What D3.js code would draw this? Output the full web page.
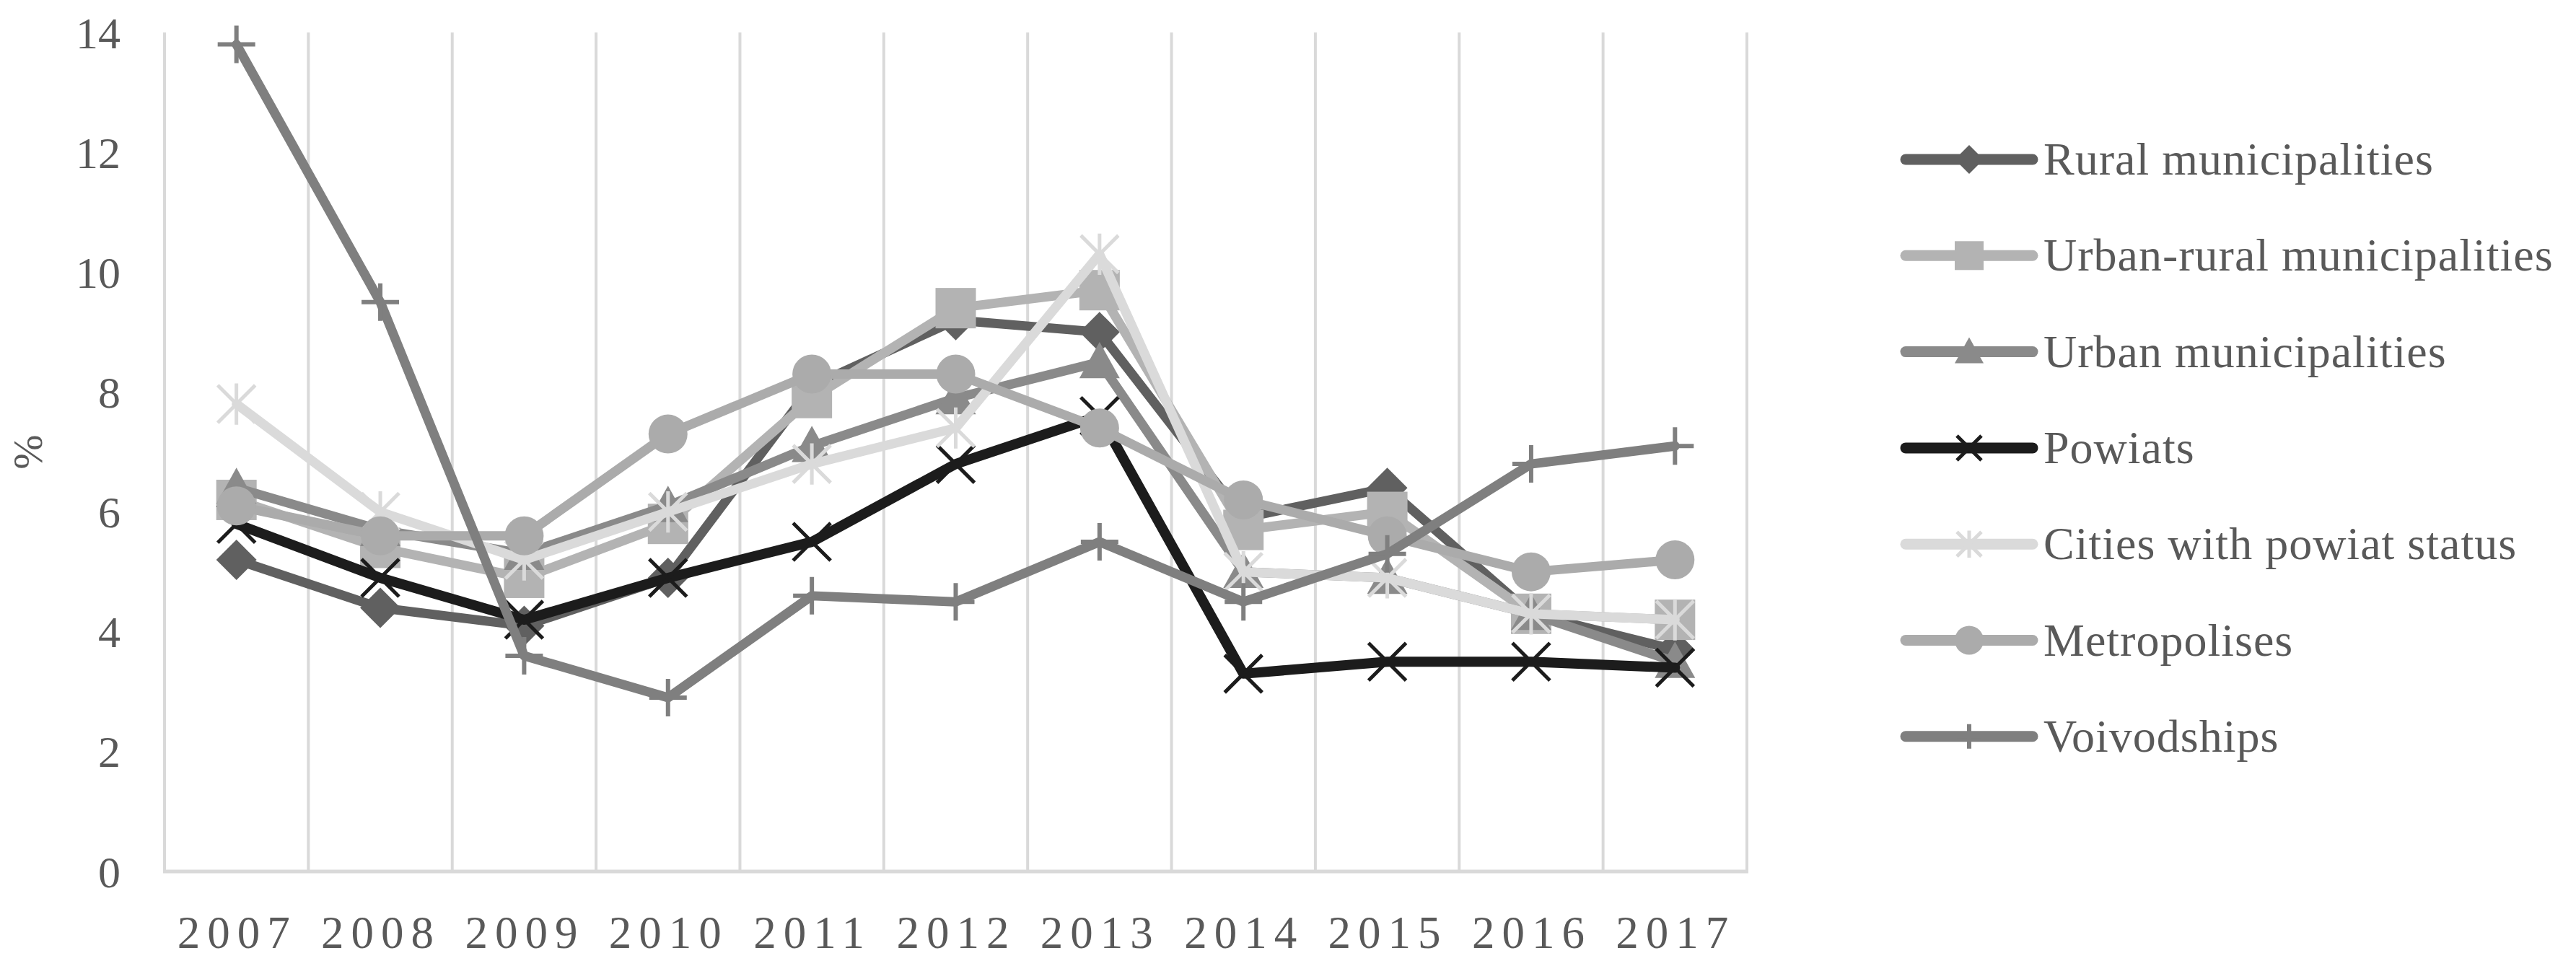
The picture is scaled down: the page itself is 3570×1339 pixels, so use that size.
<!DOCTYPE html>
<html>
<head>
<meta charset="utf-8">
<script src="https://cdn.jsdelivr.net/npm/d3@7"></script>
<style>
  html, body { margin: 0; padding: 0; background: #ffffff; }
  svg { display: block; }
</style>
</head>
<body>
<svg id="chart" width="3570" height="1339"></svg>
<script>
// ---------- DATA ----------
const years = ["2007","2008","2009","2010","2011","2012","2013","2014","2015","2016","2017"];
const yTicks = [0, 2, 4, 6, 8, 10, 12, 14];
const seriesNames = [
  "Rural municipalities",
  "Urban-rural municipalities",
  "Urban municipalities",
  "Powiats",
  "Cities with powiat status",
  "Metropolises",
  "Voivodships"
];
const ruralMunicipalities      = [5.2, 4.4, 4.1, 4.9, 8.1, 9.2, 9.0, 5.9, 6.4, 4.3, 3.7];
const urbanRuralMunicipalities = [6.2, 5.4, 4.9, 5.8, 7.9, 9.4, 9.7, 5.7, 6.0, 4.3, 4.2];
const urbanMunicipalities      = [6.4, 5.7, 5.3, 6.1, 7.1, 7.9, 8.5, 5.0, 4.9, 4.3, 3.5];
const powiats                  = [5.8, 4.9, 4.2, 4.9, 5.5, 6.8, 7.6, 3.3, 3.5, 3.5, 3.4];
const citiesWithPowiatStatus   = [7.8, 6.0, 5.2, 6.0, 6.8, 7.4, 10.3, 5.0, 4.9, 4.3, 4.2];
const metropolises             = [6.1, 5.6, 5.6, 7.3, 8.3, 8.3, 7.4, 6.2, 5.6, 5.0, 5.2];
const voivodships              = [13.8, 9.5, 3.6, 2.9, 4.6, 4.5, 5.5, 4.5, 5.3, 6.8, 7.1];

const seriesValues = [
  ruralMunicipalities, urbanRuralMunicipalities, urbanMunicipalities,
  powiats, citiesWithPowiatStatus, metropolises, voivodships
];

// ---------- STYLES ----------
const seriesColors  = ["#606060", "#b3b3b3", "#8a8a8a", "#1c1c1c", "#dadada", "#ababab", "#7f7f7f"];
const seriesMarkers = ["diamond", "square", "triangle", "x", "star", "circle", "plus"];

const plot = { left: 228, right: 2421, top: 45, bottom: 1208 };
const fontFamily = "'Liberation Serif', 'DejaVu Serif', serif";
const textColor = "#595959";
const gridColor = "#d9d9d9";

const svg = d3.select("#chart");

const x = d3.scaleBand().domain(years).range([plot.left, plot.right]).padding(0);
const y = d3.scaleLinear().domain([0, 14]).range([plot.bottom, plot.top]);
const cx = d => x(d) + x.bandwidth() / 2;

// ---------- GRID ----------
const gridG = svg.append("g");
const boundaries = years.map(d => x(d)).concat([plot.right]);
gridG.selectAll("line.v").data(boundaries).join("line")
  .attr("x1", d => d).attr("x2", d => d)
  .attr("y1", plot.top).attr("y2", plot.bottom)
  .attr("stroke", gridColor).attr("stroke-width", 4);
gridG.append("line")
  .attr("x1", plot.left - 2).attr("x2", plot.right + 2)
  .attr("y1", plot.bottom).attr("y2", plot.bottom)
  .attr("stroke", gridColor).attr("stroke-width", 5);

// ---------- AXES ----------
const yAxis = d3.axisLeft(y).tickValues(yTicks).tickSize(0).tickPadding(61).tickFormat(d3.format("d"));
const yG = svg.append("g").attr("transform", `translate(${plot.left},0)`).call(yAxis);
yG.select(".domain").remove();
yG.selectAll("text")
  .attr("font-family", fontFamily).attr("font-size", 62).attr("fill", textColor)
  .attr("dy", "0.34em");

const xAxis = d3.axisBottom(x).tickSize(0).tickPadding(0);
const xG = svg.append("g").attr("transform", `translate(0,${plot.bottom})`).call(xAxis);
xG.select(".domain").remove();
xG.selectAll("text")
  .attr("font-family", fontFamily).attr("font-size", 63).attr("fill", textColor)
  .attr("letter-spacing", 10)
  .attr("dx", 1)
  .attr("y", 106).attr("dy", 0);

svg.append("text")
  .attr("transform", `translate(58,${(plot.top + plot.bottom) / 2}) rotate(-90)`)
  .attr("text-anchor", "middle")
  .attr("font-family", fontFamily).attr("font-size", 58).attr("fill", textColor)
  .text("%");

// ---------- MARKERS ----------
function drawMarker(g, type, px, py, s, color) {
  if (type === "diamond") {
    g.append("path").attr("d", `M${px},${py - s}L${px + s},${py}L${px},${py + s}L${px - s},${py}Z`).attr("fill", color);
  } else if (type === "square") {
    g.append("rect").attr("x", px - s).attr("y", py - s).attr("width", 2 * s).attr("height", 2 * s).attr("fill", color);
  } else if (type === "triangle") {
    g.append("path").attr("d", `M${px},${py - s}L${px + s},${py + s * 0.8}L${px - s},${py + s * 0.8}Z`).attr("fill", color);
  } else if (type === "circle") {
    g.append("circle").attr("cx", px).attr("cy", py).attr("r", s).attr("fill", color);
  } else if (type === "x") {
    g.append("path").attr("d", `M${px - s},${py - s}L${px + s},${py + s}M${px + s},${py - s}L${px - s},${py + s}`)
      .attr("stroke", color).attr("stroke-width", 5).attr("fill", "none");
  } else if (type === "star") {
    g.append("path").attr("d", `M${px - s},${py - s}L${px + s},${py + s}M${px + s},${py - s}L${px - s},${py + s}M${px},${py - s * 1.1}L${px},${py + s * 1.1}`)
      .attr("stroke", color).attr("stroke-width", 5).attr("fill", "none");
  } else if (type === "plus") {
    g.append("path").attr("d", `M${px - s},${py}L${px + s},${py}M${px},${py - s}L${px},${py + s}`)
      .attr("stroke", color).attr("stroke-width", 6).attr("fill", "none");
  }
}

const markerHalf = { diamond: 28, square: 28, triangle: 28, circle: 27, x: 26, star: 26, plus: 26 };

// ---------- SERIES ----------
const line = d3.line().x((d, i) => cx(years[i])).y(d => y(d));
seriesValues.forEach((vals, si) => {
  const g = svg.append("g");
  g.append("path")
    .attr("d", line(vals))
    .attr("fill", "none")
    .attr("stroke", seriesColors[si])
    .attr("stroke-width", si === 3 ? 14 : 13)
    .attr("stroke-linejoin", "round")
    .attr("stroke-linecap", "round");
  vals.forEach((v, i) => drawMarker(g, seriesMarkers[si], cx(years[i]), y(v), markerHalf[seriesMarkers[si]], seriesColors[si]));
});

// ---------- LEGEND ----------
const legend = { x1: 2641, x2: 2817, textX: 2832, y0: 221, dy: 133.3 };
seriesNames.forEach((name, si) => {
  const ly = legend.y0 + si * legend.dy;
  const g = svg.append("g");
  g.append("line")
    .attr("x1", legend.x1).attr("x2", legend.x2).attr("y1", ly).attr("y2", ly)
    .attr("stroke", seriesColors[si]).attr("stroke-width", 15).attr("stroke-linecap", "round");
  const mt = seriesMarkers[si];
  drawMarker(g, mt, (legend.x1 + legend.x2) / 2, ly, (mt === "x" || mt === "star" || mt === "plus") ? 17 : 20, seriesColors[si]);
  g.append("text")
    .attr("x", legend.textX).attr("y", ly).attr("dy", "0.33em")
    .attr("font-family", fontFamily).attr("font-size", 64).attr("fill", textColor)
    .attr("letter-spacing", 1)
    .text(name);
});
</script>
</body>
</html>
